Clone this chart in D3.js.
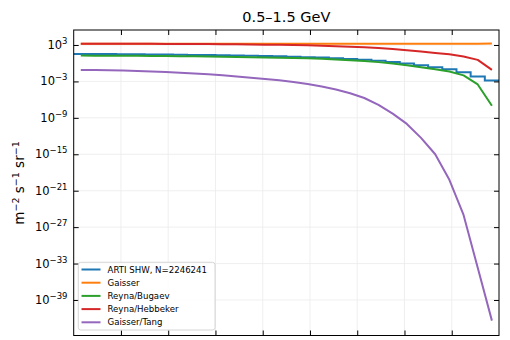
<!DOCTYPE html>
<html>
<head>
<meta charset="utf-8">
<script src="https://cdn.jsdelivr.net/npm/d3@7"></script>
<style>
  html, body { margin: 0; padding: 0; background: #fff; }
  svg { display: block; font-family: "DejaVu Sans", sans-serif; }
</style>
</head>
<body>
<svg id="chart" width="510" height="340"></svg>
<script>
// Zenith angle bins (degrees): 30 bins of 3°
const binEdges = d3.range(0, 91, 3);
const angles = [1.5, 4.5, 7.5, 10.5, 13.5, 16.5, 19.5, 22.5, 25.5, 28.5,
                31.5, 34.5, 37.5, 40.5, 43.5, 46.5, 49.5, 52.5, 55.5, 58.5,
                61.5, 64.5, 67.5, 70.5, 73.5, 76.5, 79.5, 82.5, 85.5, 88.5];

// Integrated flux 0.5–1.5 GeV, m^-2 s^-1 sr^-1
const artiShw = [33.1, 32.4, 31.6, 30.9, 29.5, 28.2, 26.9, 25.1, 23.4, 21.9,
                 20.4, 18.6, 17.0, 15.1, 13.5, 11.7, 10.0, 8.32, 6.61, 5.01,
                 3.63, 2.51, 1.58, 0.891, 0.447, 0.224, 0.1, 0.0316, 0.00631, 0.00141];
const gaisser = [1600, 1600, 1600, 1600, 1600, 1600, 1600, 1600, 1600, 1600,
                 1600, 1600, 1600, 1600, 1600, 1600, 1600, 1600, 1610, 1610,
                 1610, 1620, 1620, 1630, 1630, 1640, 1650, 1660, 1680, 1700];
const reynaBugaev = [17.8, 17.4, 17.0, 16.6, 16.2, 15.5, 14.8, 14.1, 13.5, 12.6,
                     11.7, 11.0, 10.0, 9.12, 8.13, 7.24, 6.31, 5.25, 4.17, 3.16,
                     2.29, 1.51, 0.891, 0.447, 0.224, 0.105, 0.0427, 0.01, 3.16e-4, 1e-7];
const reynaHebbeker = [1580, 1580, 1580, 1580, 1550, 1550, 1510, 1480, 1450, 1410,
                       1350, 1290, 1230, 1150, 1070, 977, 871, 759, 646, 525,
                       417, 309, 219, 138, 83.2, 50.1, 29.5, 12.6, 3.55, 0.0794];
const gaisserTang = [7.94e-2, 7.59e-2, 7.08e-2, 6.31e-2, 5.37e-2, 4.47e-2, 3.55e-2, 2.75e-2, 2.04e-2, 1.45e-2,
                     1.0e-2, 6.46e-3, 4.07e-3, 2.51e-3, 1.51e-3, 8.32e-4, 3.89e-4, 1.48e-4, 4.68e-5, 1.15e-5,
                     1.86e-6, 1.35e-7, 5.01e-9, 1e-10, 5.01e-13, 1e-15, 6.31e-20, 1e-25, 2.0e-34, 3.98e-43];

const seriesNames = ["ARTI SHW, N=2246241", "Gaisser", "Reyna/Bugaev", "Reyna/Hebbeker", "Gaisser/Tang"];
const seriesColors = ["#1f77b4", "#ff7f0e", "#2ca02c", "#d62728", "#9467bd"];
const yTickExps = [3, -3, -9, -15, -21, -27, -33, -39];
const xTicks = [10, 20, 30, 40, 50, 60, 70, 80];

const svg = d3.select("#chart");
const m = { left: 73.7, right: 499, top: 30, bottom: 335.5 };

const x = d3.scaleLinear().domain([0, 90]).range([m.left, m.right]);
const y = d3.scaleLog().domain([Math.pow(10, -44.85), Math.pow(10, 5.47)]).range([m.bottom, m.top]);

const W = m.right - m.left, H = m.bottom - m.top;

// Grid
const grid = svg.append("g").attr("stroke", "#ebebeb").attr("stroke-width", 0.8);
xTicks.forEach(t => grid.append("line").attr("x1", x(t)).attr("x2", x(t)).attr("y1", m.top).attr("y2", m.bottom));
yTickExps.forEach(e => grid.append("line").attr("x1", m.left).attr("x2", m.right)
  .attr("y1", y(Math.pow(10, e))).attr("y2", y(Math.pow(10, e))));

// Clip for data
svg.append("clipPath").attr("id", "clip").append("rect")
  .attr("x", m.left).attr("y", m.top).attr("width", W).attr("height", H);
const plot = svg.append("g").attr("clip-path", "url(#clip)");

// Simulated histogram as step line
const stepPts = binEdges.map((e, i) => [e, artiShw[Math.min(i, artiShw.length - 1)]]);
plot.append("path")
  .attr("d", d3.line().x(d => x(d[0])).y(d => y(d[1])).curve(d3.curveStepAfter)(stepPts))
  .attr("fill", "none").attr("stroke", seriesColors[0]).attr("stroke-width", 2);

const line = d3.line().x((d, i) => x(angles[i])).y(d => y(d));
[[gaisser, 1], [reynaBugaev, 2], [reynaHebbeker, 3], [gaisserTang, 4]].forEach(([vals, ci]) => {
  plot.append("path").attr("d", line(vals))
    .attr("fill", "none").attr("stroke", seriesColors[ci]).attr("stroke-width", 2)
    .attr("stroke-linejoin", "round");
});

// Axes frame and inward ticks
const axes = svg.append("g");
axes.append("rect").attr("x", m.left).attr("y", m.top).attr("width", W).attr("height", H)
  .attr("fill", "none").attr("stroke", "#000").attr("stroke-width", 1);

const xAxisB = d3.axisBottom(x).tickValues(xTicks).tickSize(-5).tickFormat("");
const xAxisT = d3.axisTop(x).tickValues(xTicks).tickSize(-5).tickFormat("");
const yVals = yTickExps.map(e => Math.pow(10, e));
const yAxisL = d3.axisLeft(y).tickValues(yVals).tickSize(-5).tickFormat("");
const yAxisR = d3.axisRight(y).tickValues(yVals).tickSize(-5).tickFormat("");
[[xAxisB, `translate(0,${m.bottom})`], [xAxisT, `translate(0,${m.top})`],
 [yAxisL, `translate(${m.left},0)`], [yAxisR, `translate(${m.right},0)`]].forEach(([ax, tr]) => {
  const g = axes.append("g").attr("transform", tr).call(ax);
  g.select(".domain").remove();
  g.selectAll(".tick line").attr("stroke", "#000").attr("stroke-width", 1);
});

// Y tick labels as powers of ten
yTickExps.forEach(e => {
  const t = svg.append("text").attr("x", 67.5).attr("y", y(Math.pow(10, e)) + 4)
    .attr("text-anchor", "end").attr("font-size", 11.5).attr("fill", "#000");
  t.append("tspan").text("10");
  t.append("tspan").attr("dy", -5).attr("font-size", 8.5).text(e < 0 ? "\u2212" + Math.abs(e) : String(e));
});

// Title
svg.append("text").attr("x", (m.left + m.right) / 2).attr("y", 22)
  .attr("text-anchor", "middle").attr("font-size", 14.5).attr("fill", "#000").text("0.5–1.5 GeV");

// Y label
const yl = svg.append("text").attr("transform", `translate(24,183) rotate(-90)`)
  .attr("text-anchor", "middle").attr("font-size", 13.5).attr("fill", "#000");
yl.append("tspan").text("m");
yl.append("tspan").attr("dy", -5).attr("font-size", 9.5).text("\u22122");
yl.append("tspan").attr("dy", 5).text(" s");
yl.append("tspan").attr("dy", -5).attr("font-size", 9.5).text("\u22121");
yl.append("tspan").attr("dy", 5).text(" sr");
yl.append("tspan").attr("dy", -5).attr("font-size", 9.5).text("\u22121");

// Legend
const lg = svg.append("g");
lg.append("rect").attr("x", 78.3).attr("y", 262.3).attr("width", 136.7).attr("height", 67.7)
  .attr("rx", 2.5).attr("fill", "#fff").attr("fill-opacity", 0.8)
  .attr("stroke", "#cccccc").attr("stroke-width", 0.8);
seriesNames.forEach((name, i) => {
  const yy = 269.5 + i * 13.2;
  lg.append("line").attr("x1", 81.5).attr("x2", 100.5).attr("y1", yy).attr("y2", yy)
    .attr("stroke", seriesColors[i]).attr("stroke-width", 2);
  lg.append("text").attr("x", 107.5).attr("y", yy + 3).attr("font-size", 8.6)
    .attr("fill", "#000").text(name);
});
</script>
</body>
</html>
